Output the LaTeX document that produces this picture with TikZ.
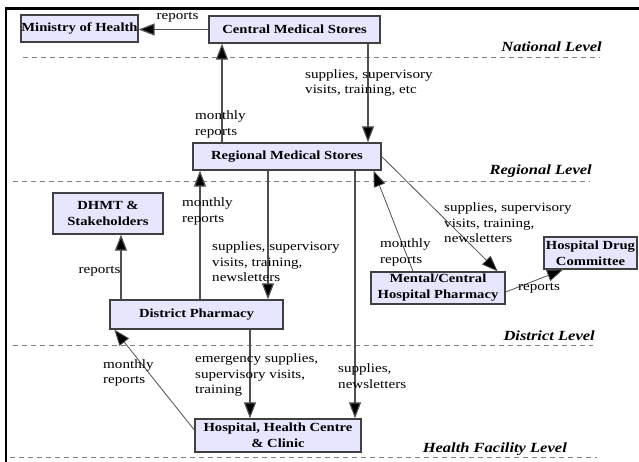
\documentclass[tikz,border=0pt]{standalone}
\usepackage{fontspec}
\setmainfont[FakeStretch=1.18]{Liberation Serif}
\usepackage{tikz}
\usetikzlibrary{arrows.meta}

\definecolor{boxfill}{HTML}{E6E6FF}
\definecolor{boxline}{HTML}{404040}
\definecolor{flowline}{HTML}{505050}

\tikzset{
  box/.style={draw=boxline, line width=1.3pt, fill=boxfill, align=center, inner sep=0pt,
    font=\fontsize{12.4pt}{16pt}\selectfont\bfseries},
  lbl/.style={inner sep=0pt, align=left, font=\fontsize{12.8pt}{15.5pt}\selectfont},
  flow/.style={draw=flowline, line width=1.2pt, -{Triangle[length=16pt,width=12pt,fill=black]}},
  thinflow/.style={flow, line width=0.8pt},
  level/.style={draw=gray, line width=0.9pt, dash pattern=on 5pt off 4pt},
  lvltxt/.style={inner sep=0pt, anchor=base east, font=\fontsize{14pt}{15pt}\selectfont\bfseries\itshape}
}

\begin{document}
\begin{tikzpicture}[x=1pt, y=-1pt]
\useasboundingbox (0,0) rectangle (639,462);
\draw[line width=2.6pt] (6,462) -- (6,8.5) -- (639,8.5);

% levels
\draw[level] (23,57)--(600,57);
\draw[level] (13,181)--(590,181);
\draw[level] (13,345)--(593,345);
\draw[level] (10,457)--(597,457);
\node[lvltxt] (natl) at (602,52) {National Level};
\node[lvltxt] (regl) at (592,175) {Regional Level};
\node[lvltxt] (dstl) at (595,340) {District Level};
\node[lvltxt] (hfl) at (567,452) {Health Facility Level};

% boxes
\node[box, minimum width=117pt, minimum height=27pt] (moh) at (79.5,28.5) {Ministry of Health};
\node[box, minimum width=171pt, minimum height=27pt] (cms) at (294.5,29.5) {Central Medical Stores};
\node[box, minimum width=188pt, minimum height=27pt] (rms) at (287,156.5) {Regional Medical Stores};
\node[box, minimum width=110pt, minimum height=41pt] (dhmt) at (108,213.5) {DHMT \&\\Stakeholders};
\node[box, minimum width=173pt, minimum height=29pt] (dp) at (196.5,314.5) {District Pharmacy};
\node[box, minimum width=134pt, minimum height=32pt] (mchp) at (438,288) {Mental/Central\\Hospital Pharmacy};
\node[box, minimum width=93pt, minimum height=32pt] (hdc) at (590.5,253) {Hospital Drug\\Committee};
\node[box, minimum width=166pt, minimum height=33pt] (hhc) at (278,435.5) {Hospital, Health Centre\\\& Clinic};

% connectors
\draw[flow] (cms.west) -- (cms.west -| moh.east);
\draw[flow] ([xshift=-65pt]rms.north) -- ([xshift=-72.5pt]cms.south);
\draw[flow] ([xshift=73.5pt]cms.south) -- ([xshift=81pt]rms.north);
\draw[flow] ([xshift=3.5pt]dp.north) -- ([xshift=-87pt]rms.south);
\draw[flow] ([xshift=-19pt]rms.south) -- ([xshift=71.5pt]dp.north);
\draw[flow] ([xshift=68pt]rms.south) -- ([xshift=77pt]hhc.north);
\draw[thinflow] (rms.east) -- ([xshift=-8pt]mchp.north east);
\draw[thinflow] ([xshift=-25pt]mchp.north) -- ([xshift=-8pt]rms.south east);
\draw[thinflow] ([yshift=-4pt]mchp.east) -- ([xshift=-27.5pt]hdc.south);
\draw[flow] ([xshift=-75.5pt]dp.north) -- ([xshift=13pt]dhmt.south);
\draw[flow] ([xshift=53.5pt]dp.south) -- ([xshift=-28pt]hhc.north);
\draw[thinflow] ([yshift=5.5pt]hhc.west) -- ([xshift=5pt]dp.south west);

% labels
\node[lbl] (lrep1) at (177.5,17) {reports};
\node[lbl, anchor=west] (lmon1) at (195,124.5) {monthly\\reports};
\node[lbl, anchor=west] (lsup1) at (305,83) {supplies, supervisory\\visits, training, etc};
\node[lbl, anchor=west] (lmon2) at (182,211.5) {monthly\\reports};
\node[lbl] (lrep2) at (99.5,271) {reports};
\node[lbl, anchor=west] (lsup2) at (212,262) {supplies, supervisory\\visits, training,\\newsletters};
\node[lbl, anchor=west] (lsup3) at (444,223) {supplies, supervisory\\visits, training,\\newsletters};
\node[lbl, anchor=west] (lmon3) at (380,252.5) {monthly\\reports};
\node[lbl] (lrep3) at (539,288) {reports};
\node[lbl, anchor=west] (lmon4) at (103,373) {monthly\\reports};
\node[lbl, anchor=west] (lsup4) at (195,375) {emergency supplies,\\supervisory visits,\\training};
\node[lbl, anchor=west] (lsup5) at (338,376) {supplies,\\newsletters};
\end{tikzpicture}
\end{document}
